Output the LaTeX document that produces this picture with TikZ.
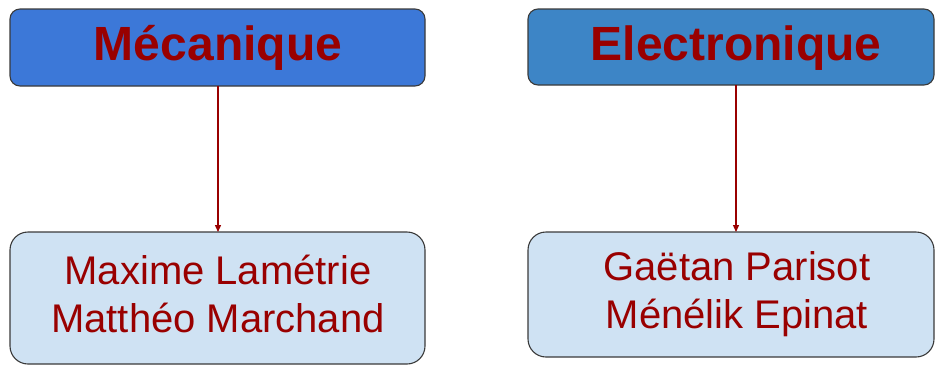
\documentclass[tikz,border=0pt]{standalone}
\usepackage{fontspec}
\setmainfont{Liberation Sans}
\usetikzlibrary{arrows.meta}
\definecolor{headA}{HTML}{3C78D8}
\definecolor{headB}{HTML}{3D85C6}
\definecolor{namefill}{HTML}{CFE2F3}
\definecolor{darkred}{HTML}{990000}
\definecolor{edge}{HTML}{3A3A3A}
\begin{document}
\begin{tikzpicture}[x=1pt,y=-1pt,
  headbox/.style={draw=edge,line width=1.1pt,rounded corners=10pt},
  namebox/.style={draw=edge,line width=1.1pt,rounded corners=18pt,fill=namefill},
  headtext/.style={text=darkred,font=\fontsize{48}{50}\selectfont\bfseries,inner sep=0pt},
  nametext/.style={text=darkred,font=\fontsize{40}{48}\selectfont,align=center,inner sep=0pt},
  link/.style={draw=darkred,line width=1.3pt,-{Triangle[length=7pt,width=6pt]}}]
\useasboundingbox (0,0) rectangle (935,365);
% column boxes
\path[headbox,fill=headA] (10,9) rectangle (425,86);
\path[headbox,fill=headB] (528,9) rectangle (934,85);
\path[namebox] (10,232) rectangle (425,364);
\path[namebox] (528,232) rectangle (934,357);
% anchors for the connectors
\coordinate (mtop) at (218,86);
\coordinate (mbot) at (218,232);
\coordinate (etop) at (736,85);
\coordinate (ebot) at (736,232);
% labels
\node[headtext] (meca) at (218,48) {Mécanique};
\node[headtext] (elec) at (736,48) {Electronique};
\node[nametext] (mnames) at (218,294) {Maxime Lamétrie\\Matthéo Marchand};
\node[nametext] (enames) at (737,294) {Gaëtan Parisot\\Ménélik Epinat};
% connectors
\draw[link] (mtop) -- (mbot);
\draw[link] (etop) -- (ebot);
\end{tikzpicture}
\end{document}
